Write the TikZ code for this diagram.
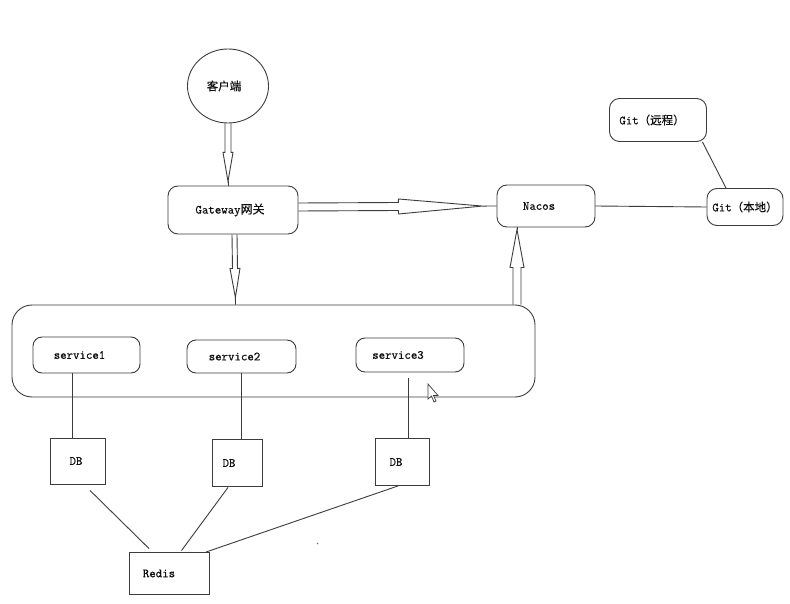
\documentclass[tikz,border=0pt]{standalone}
\usepackage{fontspec}
\newfontfamily\lbl{Latin Modern Mono}[FakeBold=0.7]
\newfontfamily\cjk{Noto Sans CJK SC}[FakeBold=0.4]
\usetikzlibrary{calc,shapes.geometric}
\definecolor{lc}{HTML}{3C3C3C}
\definecolor{tc}{HTML}{111111}
% hollow block arrow: start, end, shaft half width, head half width, head base distance, tip distance
\newcommand\hollowarrow[6]{%
  \path (#1) coordinate (ha-s) (#2) coordinate (ha-e);
  \coordinate (ha-b) at ($(ha-s)!#5!(ha-e)$);
  \coordinate (ha-t) at ($(ha-s)!#6!(ha-e)$);
  \draw[conn] ($(ha-s)!#3!90:(ha-e)$) -- ($(ha-b)!#3!90:(ha-e)$) -- ($(ha-b)!#4!90:(ha-e)$) -- (ha-t)
     -- ($(ha-b)!#4!-90:(ha-e)$) -- ($(ha-b)!#3!-90:(ha-e)$) -- ($(ha-s)!#3!-90:(ha-e)$);
  \draw[conn] (ha-t) -- (ha-e);
}
\begin{document}
\begin{tikzpicture}[x=1pt,y=-1pt,
  every node/.style={font=\lbl\fontsize{12.5}{14}\selectfont, text=tc},
  rbox/.style={draw=lc, line width=0.9pt, rounded corners=10pt, inner sep=0pt},
  sbox/.style={draw=lc, line width=0.9pt, inner sep=0pt},
  conn/.style={draw=lc, line width=0.9pt}]
\fill[white] (0,0) rectangle (790,604);
\useasboundingbox (0,0) rectangle (790,604);

% nodes
\node[draw=lc, line width=0.9pt, ellipse, minimum width=81pt, minimum height=74pt, inner sep=0pt] (client) at (228,86) {{\cjk\fontsize{11.5}{13}\selectfont 客户端}\kern8pt\relax};
\node[rbox, minimum width=130pt, minimum height=48pt] (gw) at (233,210) {Gateway{\cjk\fontsize{12}{14}\selectfont 网关}\kern6pt\relax};
\node[rbox, minimum width=98pt, minimum height=42pt] (nacos) at (546,206) {Nacos\kern14pt\relax};
\node[rbox, minimum width=97pt, minimum height=43pt] (gitr) at (658,120) {Git{\cjk\fontsize{11.5}{14}\selectfont （远程）}\kern12pt\relax};
\node[rbox, minimum width=76pt, minimum height=37pt] (gitl) at (745,207) {Git{\cjk\fontsize{11.5}{14}\selectfont （本地）}};
\node[rbox, rounded corners=20pt, minimum width=523pt, minimum height=92pt] (cont) at (273.5,351) {};
\node[rbox, rounded corners=9pt, minimum width=107pt, minimum height=36pt] (s1) at (86.5,355) {service1\kern14pt\relax};
\node[rbox, rounded corners=9pt, minimum width=109pt, minimum height=33pt] (s2) at (241.5,356.5) {service2\kern14pt\relax};
\node[rbox, rounded corners=9pt, minimum width=108pt, minimum height=34pt] (s3) at (410,355) {service3\kern24pt\relax};
\node[sbox, minimum width=55pt, minimum height=46pt] (db1) at (78,461) {DB\kern4pt\relax};
\node[sbox, minimum width=50pt, minimum height=47pt] (db2) at (237,463) {DB\kern16pt\relax};
\node[sbox, minimum width=54pt, minimum height=47pt] (db3) at (402,462) {DB\kern12pt\relax};
\node[sbox, minimum width=80pt, minimum height=42pt] (redis) at (169,573.5) {Redis\kern20pt\relax};

% block arrows
\hollowarrow{client.south}{$(gw.north)+(-5,0)$}{3pt}{5pt}{29pt}{58pt}
\hollowarrow{$(gw.south)+(1.5,0)$}{$(cont.north)+(-38,0)$}{2.5pt}{5pt}{34pt}{63pt}
\hollowarrow{$(gw.east)+(0,-3)$}{nacos.west}{4pt}{7.5pt}{100pt}{184pt}
\hollowarrow{$(cont.north)+(243.5,0)$}{$(nacos.south)+(-29,0)$}{4pt}{7pt}{37pt}{75pt}

% plain connectors
\draw[conn] (nacos.east) -- (gitl.west);
\draw[conn] ($(gitr.south east)+(-4.5,0)$) -- ($(gitl.north)+(-19,0)$);
\draw[conn] (s1.south -| 72.6,0) -- (db1.north -| 72.6,0);
\draw[conn] (s2.south -| 241,0) -- (db2.north -| 241,0);
\draw[conn] ($(s3.south)+(-2,6)$) -- (db3.north -| 408,0);
\draw[conn] ($(db1.south)+(12,6)$) -- ($(redis.north)+(-20,-3.5)$);
\draw[conn] ($(db2.south)+(-9,0.5)$) -- ($(redis.north)+(12.5,-1.5)$);
\draw[conn] ($(db3.south)+(-4,0)$) -- ($(redis.north east)+(-3.5,0)$);

% screen artefacts: mouse cursor and a stray dot
\draw[lc, line width=0.7pt, fill=white] (428,384) -- (428,399) -- (431.5,396) -- (434,402) -- (436,401) -- (433.5,395.5) -- (438,395.5) -- cycle;
\fill[lc!70] (317.5,543.5) circle (0.8pt);
\end{tikzpicture}
\end{document}
